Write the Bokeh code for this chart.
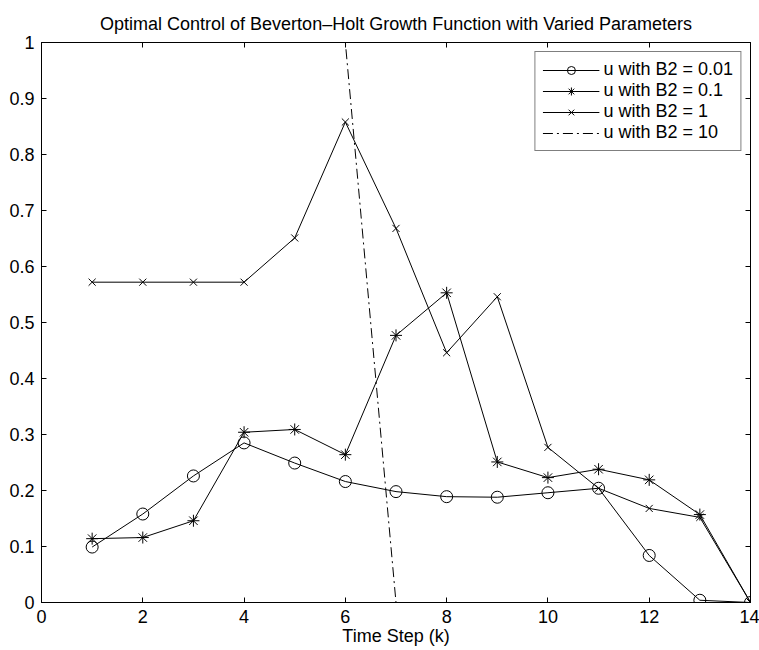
from bokeh.plotting import figure
from bokeh.models import Range1d, LinearAxis, SingleIntervalTicker, CustomJSTickFormatter
from bokeh.embed import file_html
from bokeh.resources import INLINE

k = [1, 2, 3, 4, 5, 6, 7, 8, 9, 10, 11, 12, 13, 14]
u_b2_001 = [0.099, 0.158, 0.226, 0.285, 0.249, 0.216, 0.198, 0.189, 0.188, 0.196, 0.204, 0.084, 0.004, 0.0]
u_b2_01 = [0.114, 0.116, 0.146, 0.304, 0.309, 0.264, 0.477, 0.553, 0.251, 0.223, 0.238, 0.219, 0.157, 0.0]
u_b2_1 = [0.572, 0.572, 0.572, 0.572, 0.651, 0.858, 0.668, 0.446, 0.546, 0.277, 0.204, 0.168, 0.152, 0.0]
u_b2_10 = [1, 1, 1, 1, 1, 1, 0, 0, 0, 0, 0, 0, 0, 0]

labels = ["u with B2 = 0.01", "u with B2 = 0.1", "u with B2 = 1", "u with B2 = 10"]
title = "Optimal Control of Beverton\u2013Holt Growth Function with Varied Parameters"
xlabel = "Time Step (k)"

FONT = "Liberation Sans"
FS = "18px"

p = figure(width=759, height=650, output_backend="svg", toolbar_location=None,
           x_range=Range1d(0, 14), y_range=Range1d(0, 1),
           min_border_left=41, min_border_right=9, min_border_top=42, min_border_bottom=48)
p.background_fill_color = "white"
p.border_fill_color = "white"
p.outline_line_color = "black"
p.outline_line_width = 1
p.xgrid.visible = False
p.ygrid.visible = False

p.title.text = title
p.title.align = "center"
p.title.text_font = FONT
p.title.text_font_size = FS
p.title.text_font_style = "normal"
p.title.text_color = "black"
p.title.standoff = 18

def style(ax, show_labels=True):
    ax.axis_line_color = "black"
    ax.major_tick_line_color = "black"
    ax.major_tick_in = 5
    ax.major_tick_out = 0
    ax.minor_tick_line_color = None
    ax.major_label_text_font = FONT
    ax.major_label_text_font_size = FS
    ax.major_label_text_color = "black"
    ax.axis_label_text_font = FONT
    ax.axis_label_text_font_size = FS
    ax.axis_label_text_font_style = "normal"
    ax.axis_label_text_color = "black"
    if not show_labels:
        ax.formatter = CustomJSTickFormatter(code="return '';")
        ax.major_label_standoff = 0

p.xaxis.ticker = SingleIntervalTicker(interval=2, num_minor_ticks=0)
p.yaxis.ticker = SingleIntervalTicker(interval=0.1, num_minor_ticks=0)
p.yaxis.formatter = CustomJSTickFormatter(code="return String(Number(tick.toFixed(1)));")
style(p.xaxis[0])
style(p.yaxis[0])
p.xaxis.axis_label = xlabel
p.xaxis.major_label_standoff = 7
p.xaxis.axis_label_standoff = 0
p.yaxis.major_label_standoff = 7

top = LinearAxis(ticker=SingleIntervalTicker(interval=2, num_minor_ticks=0))
style(top, False)
p.add_layout(top, "above")
right = LinearAxis(ticker=SingleIntervalTicker(interval=0.1, num_minor_ticks=0))
style(right, False)
p.add_layout(right, "right")

lw = 1
p.line(k, u_b2_001, line_color="black", line_width=lw, legend_label=labels[0])
p.scatter(k, u_b2_001, marker="circle", size=12, fill_color=None, line_color="black",
          line_width=1, legend_label=labels[0])
p.line(k, u_b2_01, line_color="black", line_width=lw, legend_label=labels[1])
p.scatter(k, u_b2_01, marker="asterisk", size=12, line_color="black",
          line_width=1, legend_label=labels[1])
p.line(k, u_b2_1, line_color="black", line_width=lw, legend_label=labels[2])
p.scatter(k, u_b2_1, marker="x", size=10, line_color="black",
          line_width=1, legend_label=labels[2])
p.line(k, u_b2_10, line_color="black", line_width=lw, line_dash="10 4 2 4",
       legend_label=labels[3])

lg = p.legend[0]
lg.location = "top_right"
lg.margin = 9
lg.padding = 7
lg.spacing = 0
lg.glyph_width = 57
lg.glyph_height = 20
lg.label_height = 20
lg.label_standoff = 4
lg.label_text_font = FONT
lg.label_text_font_size = FS
lg.label_text_color = "black"
lg.border_line_color = "black"
lg.border_line_width = 1
lg.background_fill_color = "white"
lg.background_fill_alpha = 1

open("out.html", "w").write(file_html(p, INLINE))
